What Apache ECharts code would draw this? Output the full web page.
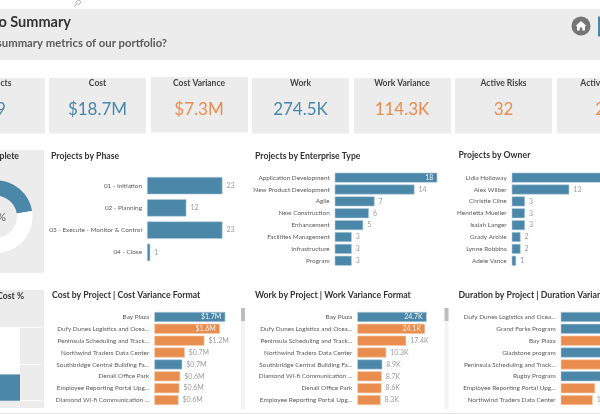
<!DOCTYPE html>
<html><head><meta charset="utf-8">
<style>html,body{margin:0;padding:0;background:#fff;overflow:hidden}#c{width:600px;height:414px;filter:blur(0.3px)}</style>
<script src="https://cdn.jsdelivr.net/npm/echarts@6/dist/echarts.min.js"></script>
</head><body><div id="c"></div>
<script>
var BLUE='#4a87a8', ORANGE='#e98d4e', PANEL='#ececec';
var FONT='Lato,"Open Sans",sans-serif';

var kpiTitles=['Projects','Cost','Cost Variance','Work','Work Variance','Active Risks','Active Issues'];
var kpiValues=['59','$18.7M','$7.3M','274.5K','114.3K','32','22'];
var kpiTones=['b','b','o','b','o','o','o'];

var percentComplete=[22.5,77.5];
var costPercent=[36,64];

var phaseCats=['01 - Initiation','02 - Planning','03 - Execute - Monitor & Control','04 - Close'];
var phaseVals=[23,12,23,1];

var typeCats=['Application Development','New Product Development','Agile','New Construction','Enhancement','Facilities Management','Infrastructure','Program'];
var typeVals=[18,14,7,6,5,3,3,3];

var ownerCats=['Lidia Holloway','Alex Wilber','Christie Cline','Henrietta Mueller','Isaiah Langer','Grady Archie','Lynne Robbins','Adele Vance'];
var ownerVals=[24,13,3,3,3,2,2,1];

var costCats=['Bay Plaza','Dufy Dunes Logistics and Ocea...','Peninsula Scheduling and Track...','Northwind Traders Data Center','Southbridge Central Building Fa...','Denali Office Park','Employee Reporting Portal Upg...','Diamond Wi-fi Communication ...'];
var costVals=[1.7,1.57,1.2,0.73,0.67,0.62,0.6,0.58];
var costTones=['b','o','o','o','b','o','o','o'];

var workCats=['Bay Plaza','Dufy Dunes Logistics and Ocea...','Peninsula Scheduling and Track...','Northwind Traders Data Center','Southbridge Central Building Fa...','Diamond Wi-fi Communication ...','Denali Office Park','Employee Reporting Portal Upg...'];
var workVals=[24.7,24.1,17.4,10.3,8.9,8.7,8.6,8.3];
var workTones=['b','o','o','o','b','o','o','o'];

var durCats=['Dufy Dunes Logistics and Ocea...','Grand Forks Program','Bay Plaza','Gladstone program','Peninsula Scheduling and Track...','Rugby Program','Employee Reporting Portal Upg...','Northwind Traders Data Center'];
var durVals=[410,395,380,340,330,300,172,160];
var durTones=['b','b','o','b','o','b','o','o'];

var grids=[],xAxes=[],yAxes=[],series=[];
function hbar(cfg){
  var i=grids.length;
  grids.push({left:cfg.x,top:cfg.y,width:cfg.w,height:cfg.h,outerBoundsMode:'none'});
  xAxes.push({gridIndex:i,type:'value',min:0,max:cfg.max,show:false});
  yAxes.push({gridIndex:i,type:'category',inverse:true,data:cfg.cats,
    axisLine:{show:false},axisTick:{show:false},splitLine:{show:false},
    axisLabel:{color:'#595959',fontSize:cfg.fs||6.4,fontFamily:FONT,margin:cfg.margin||5,interval:0}});
  series.push({type:'bar',xAxisIndex:i,yAxisIndex:i,barWidth:cfg.bw,silent:true,animation:false,
    data:cfg.vals.map(function(v,k){
      var inside=v/cfg.max>(cfg.insideAt||0.9);
      return {value:v,
        itemStyle:{color:(cfg.tones&&cfg.tones[k]==='o')?ORANGE:BLUE,borderColor:(cfg.tones&&cfg.tones[k]==='o')?'#f5c9a8':'#b4cfdd',borderWidth:0.6},
        label:{position:inside?'insideRight':'right',color:inside?'#f4f4f4':'#9a9a9a',distance:cfg.dist||4}};
    }),
    label:{show:true,fontSize:cfg.vfs||7,fontFamily:FONT,
      formatter:function(p){return cfg.fmt?cfg.fmt(p.value):String(p.value);}}});
}
hbar({x:147,y:174.5,w:75.5,h:89,max:23,cats:phaseCats,vals:phaseVals,bw:17.5,insideAt:2,margin:5});
hbar({x:334.7,y:171.7,w:102.6,h:95,max:18,cats:typeCats,vals:typeVals,bw:10});
hbar({x:511.7,y:171.7,w:106.3,h:95,max:24,cats:ownerCats,vals:ownerVals,bw:10});
hbar({x:154.3,y:311,w:71,h:95,max:1.7,cats:costCats,vals:costVals,tones:costTones,bw:10,fmt:function(v){return '$'+v.toFixed(1)+'M';}});
hbar({x:357.3,y:311,w:69.4,h:95,max:24.7,cats:workCats,vals:workVals,tones:workTones,bw:10,fmt:function(v){return v.toFixed(1)+'K';}});
hbar({x:560.7,y:311,w:82,h:95,max:410,cats:durCats,vals:durVals,tones:durTones,bw:10});

// stacked percent column, bottom-left
var si=grids.length;
grids.push({left:-60,top:327.3,width:101,height:73.4,outerBoundsMode:'none'});
xAxes.push({gridIndex:si,type:'category',data:['Cost'],show:false});
yAxes.push({gridIndex:si,type:'value',min:0,max:100,interval:50,
  axisLabel:{show:false},axisLine:{show:false},axisTick:{show:false},
  splitLine:{show:true,lineStyle:{color:'#ffffff',width:1}}});
series.push({type:'bar',stack:'c',xAxisIndex:si,yAxisIndex:si,barWidth:59,silent:true,animation:false,data:[costPercent[0]],itemStyle:{color:BLUE}});
series.push({type:'bar',stack:'c',xAxisIndex:si,yAxisIndex:si,barWidth:59,silent:true,animation:false,data:[costPercent[1]],itemStyle:{color:'#ffffff'}});

series.push({type:'pie',center:[-4,216.7],radius:[21,36.5],startAngle:90,silent:true,animation:false,
  label:{show:false},labelLine:{show:false},
  data:[{value:percentComplete[0],itemStyle:{color:BLUE}},{value:percentComplete[1],itemStyle:{color:'#ffffff'}}]});

function rect(x,y,w,h,fill,z){return {type:'rect',z:z||0,silent:true,shape:{x:x,y:y,width:w,height:h},style:{fill:fill}};}
function txt(x,y,t,o){o=o||{};return {type:'text',z:10,silent:true,x:x,y:y,style:{text:t,fill:o.c||'#333',
  font:(o.w||'bold')+' '+(o.s||8.7)+'px '+FONT,textAlign:o.a||'left',textVerticalAlign:'middle'}};}

var g=[];
g.push(rect(0,9,600,51,PANEL));
var cardX=[-52,49,151,252,354,455,557];
var cardCx=[-4,97.5,199,300.5,402,503.5,605];
var cardTop=[78,78,77,78,78,78,78];
kpiTitles.forEach(function(t,i){
  g.push(rect(cardX[i],cardTop[i],97,55.5,PANEL));
  g.push(txt(cardCx[i],83.5,t,{a:'center',s:8.5,c:'#444'}));
  g.push(txt(cardCx[i],110,kpiValues[i],{a:'center',s:17,w:'normal',c:kpiTones[i]==='o'?ORANGE:BLUE}));
});
g.push(rect(-52,150,96,123,PANEL));
g.push(rect(-52,290,96,118,PANEL));
g.push(rect(241,308,4,101,'#f3f3f3'));
g.push(rect(241,308,4,13,'#bdbdbd'));
g.push(rect(444.5,308,4,101,'#f3f3f3'));
g.push(rect(444.5,308,4,13,'#bdbdbd'));
g.push(rect(0,413,600,1,'#e4e4e4'));
g.push(rect(598,16.5,2,20,BLUE));
g.push({type:'circle',z:5,silent:true,shape:{cx:581,cy:26,r:9.5},style:{fill:'#757575'}});
g.push({type:'polygon',z:6,silent:true,shape:{points:[[581,21],[586.5,26],[585,26],[585,30.5],[582.3,30.5],[582.3,27.5],[579.7,27.5],[579.7,30.5],[577,30.5],[577,26],[575.5,26]]},style:{fill:'#fff'}});
g.push({type:'polyline',z:6,silent:true,shape:{points:[[74,7],[77,3.5],[75.5,2],[79,0],[81,2],[78.5,5],[77,3.5]]},style:{fill:'none',stroke:'#b5b5b5',lineWidth:1}});
g.push(txt(71,22.5,'Portfolio Summary',{a:'right',s:14.5,c:'#333'}));
g.push(txt(167,43.5,'What are the summary metrics of our portfolio?',{a:'right',s:11.3,c:'#5a5a5a'}));
g.push(txt(19,156.5,'% Complete',{a:'right'}));
g.push(txt(24,296,'Actual Cost %',{a:'right'}));
g.push(txt(6,217,'22%',{a:'right',s:11,w:'normal',c:'#666'}));
g.push(txt(51,156,'Projects by Phase'));
g.push(txt(255,156,'Projects by Enterprise Type'));
g.push(txt(458.5,155.5,'Projects by Owner'));
g.push(txt(52,295.5,'Cost by Project | Cost Variance Format'));
g.push(txt(255,295.5,'Work by Project | Work Variance Format'));
g.push(txt(458.5,295.5,'Duration by Project | Duration Variance Format'));

var chart=echarts.init(document.getElementById('c'),null,{renderer:'canvas'});
chart.setOption({animation:false,backgroundColor:'#fff',grid:grids,xAxis:xAxes,yAxis:yAxes,series:series,graphic:{elements:g}});
</script></body></html>
